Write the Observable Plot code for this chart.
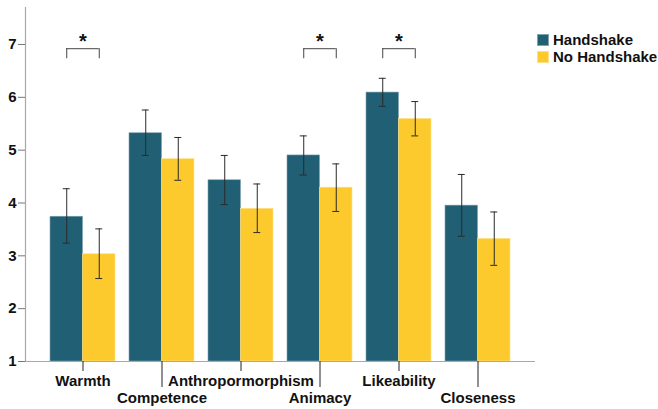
<!DOCTYPE html>
<html>
<head>
<meta charset="utf-8">
<script src="https://cdn.jsdelivr.net/npm/d3@7"></script>
<script src="https://cdn.jsdelivr.net/npm/@observablehq/plot@0.6"></script>
<style>
  html, body { margin: 0; padding: 0; background: #fff; }
  #wrap { position: relative; width: 658px; height: 409px; overflow: hidden; }
  .legend { position: absolute; left: 537px; top: 31px; font: bold 15px "Liberation Sans", Arial, sans-serif; color: #111; white-space: nowrap; }
  .legend div { display: flex; align-items: center; height: 17px; }
  .legend span.sw { display: inline-block; width: 12px; height: 12px; margin-right: 4px; box-sizing: border-box; }
</style>
</head>
<body>
<div id="wrap"></div>
<script>
const categories = ["Warmth", "Competence", "Anthropormorphism", "Animacy", "Likeability", "Closeness"];
const seriesNames = ["Handshake", "No Handshake"];
const handshake   = [3.74, 5.32, 4.43, 4.90, 6.09, 3.95];
const handshakeLo = [3.24, 4.90, 3.97, 4.53, 5.83, 3.37];
const handshakeHi = [4.27, 5.76, 4.90, 5.27, 6.36, 4.54];
const noHandshake   = [3.03, 4.83, 3.89, 4.29, 5.59, 3.32];
const noHandshakeLo = [2.57, 4.43, 3.44, 3.84, 5.27, 2.82];
const noHandshakeHi = [3.51, 5.24, 4.36, 4.74, 5.92, 3.83];
const significant = ["Warmth", "Animacy", "Likeability"];
const yTicks = [1, 2, 3, 4, 5, 6, 7];
const bracketTop = 6.92;
const bracketLeg = 6.73;
const starLevel = 7.06;

const colors = ["#215f74", "#fdca2e"];

const W = 658, H = 409;
const mL = 25, mR = 123, mT = 7, mB = 48;
const pIn = 0.177, pOut = 0.316;
const step = (W - mL - mR) / (categories.length - pIn + 2 * pOut);
const bw = step * (1 - pIn);
const half = bw / 2;
const q = bw / 4;
const cap = 3.5;

const hRows = categories.map((c, i) => ({category: c, value: handshake[i], lo: handshakeLo[i], hi: handshakeHi[i]}));
const nRows = categories.map((c, i) => ({category: c, value: noHandshake[i], lo: noHandshakeLo[i], hi: noHandshakeHi[i]}));
const sigRows = significant.map(c => ({category: c}));

const errStroke = "#2a2a2a";

const plot = Plot.plot({
  width: W, height: H,
  marginLeft: mL, marginRight: mR, marginTop: mT, marginBottom: mB,
  style: {fontFamily: "'Liberation Sans', Arial, sans-serif", fontSize: "15px", fontWeight: "bold", color: "#111", background: "#fff"},
  x: {domain: categories, paddingInner: pIn, paddingOuter: pOut, axis: null},
  y: {domain: [1, 7.7], axis: null},
  marks: [
    Plot.barY(hRows, {x: "category", y1: 1, y2: "value", fill: colors[0], insetRight: half, stroke: "#7fa3b0", strokeWidth: 0.6}),
    Plot.barY(nRows, {x: "category", y1: 1, y2: "value", fill: colors[1], insetLeft: half, stroke: "#fde08a", strokeWidth: 0.6}),
    // error bars
    Plot.ruleX(hRows, {x: "category", y1: "lo", y2: "hi", dx: -q, stroke: errStroke, strokeWidth: 1}),
    Plot.ruleX(nRows, {x: "category", y1: "lo", y2: "hi", dx: q, stroke: errStroke, strokeWidth: 1}),
    Plot.tickY(hRows, {x: "category", y: "hi", insetLeft: q - cap, insetRight: bw - q - cap, stroke: errStroke}),
    Plot.tickY(hRows, {x: "category", y: "lo", insetLeft: q - cap, insetRight: bw - q - cap, stroke: errStroke}),
    Plot.tickY(nRows, {x: "category", y: "hi", insetLeft: half + q - cap, insetRight: q - cap, stroke: errStroke}),
    Plot.tickY(nRows, {x: "category", y: "lo", insetLeft: half + q - cap, insetRight: q - cap, stroke: errStroke}),
    // significance brackets
    Plot.tickY(sigRows, {x: "category", y: () => bracketTop, insetLeft: q, insetRight: q, stroke: "#444"}),
    Plot.ruleX(sigRows, {x: "category", y1: () => bracketLeg, y2: () => bracketTop, dx: -q, stroke: "#444"}),
    Plot.ruleX(sigRows, {x: "category", y1: () => bracketLeg, y2: () => bracketTop, dx: q, stroke: "#444"}),
    Plot.text(sigRows, {x: "category", y: () => starLevel, text: () => "*", fontSize: 20, fontWeight: "bold", fill: "#111", lineAnchor: "middle"}),
    // axes
    Plot.ruleY([1], {stroke: "#a8a8a8", strokeWidth: 1.2}),
    Plot.frame({anchor: "left", stroke: "#a8a8a8", strokeWidth: 1.2}),
    Plot.axisY({ticks: yTicks, tickSize: 7, tickPadding: 2, tickFormat: d => String(d), stroke: "#777", fill: "#111", label: null, fontSize: 15}),
    Plot.axisX({ticks: categories.filter((d, i) => i % 2 === 0), tickSize: 10, tickPadding: 4, stroke: "#222", fill: "#111", label: null, fontSize: 15}),
    Plot.axisX({ticks: categories.filter((d, i) => i % 2 === 1), tickSize: 26, tickPadding: 5, stroke: "#222", fill: "#111", label: null, fontSize: 15})
  ]
});

const wrap = document.getElementById("wrap");
wrap.appendChild(plot);

const legend = document.createElement("div");
legend.className = "legend";
seriesNames.forEach((name, i) => {
  const row = document.createElement("div");
  const sw = document.createElement("span");
  sw.className = "sw";
  sw.style.background = colors[i];
  sw.style.border = "1px solid " + (i === 0 ? "#7fa3b0" : "#fde08a");
  row.appendChild(sw);
  row.appendChild(document.createTextNode(name));
  legend.appendChild(row);
});
wrap.appendChild(legend);
</script>
</body>
</html>
